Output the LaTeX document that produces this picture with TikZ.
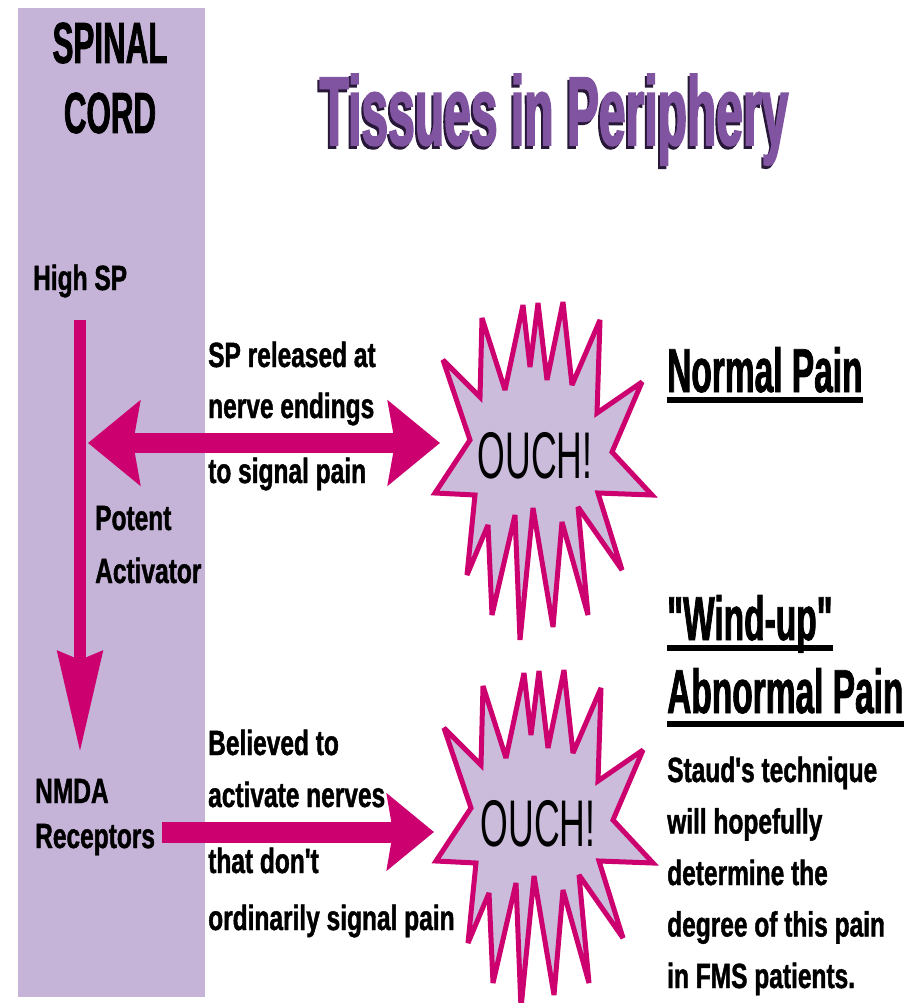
\documentclass[tikz,border=0pt]{standalone}
\usepackage{fontspec}
\setmainfont{Liberation Sans}
\newfontfamily\bodyfont[FakeStretch=0.7,BoldFeatures={FakeBold=1.2}]{Liberation Sans}
\newfontfamily\headfont[FakeStretch=0.54,BoldFeatures={FakeBold=1.2}]{Liberation Sans}
\newfontfamily\titlefont[FakeStretch=0.49,BoldFeatures={FakeBold=1.6}]{Liberation Sans}
\usetikzlibrary{arrows.meta,calc}
\definecolor{cordfill}{RGB}{197,179,216}
\definecolor{burstfill}{RGB}{203,188,220}
\definecolor{painpink}{RGB}{204,0,110}
\definecolor{titlepurple}{RGB}{128,84,160}
\definecolor{titleshadow}{RGB}{40,24,56}
\tikzset{
  body/.style={font=\bodyfont\bfseries\fontsize{35}{40}\selectfont,inner sep=0pt,anchor=base west},
  head/.style={font=\headfont\bfseries\fontsize{62}{70}\selectfont,inner sep=0pt,anchor=base west},
  cordlabel/.style={font=\headfont\bfseries\fontsize{58}{64}\selectfont,inner sep=0pt,anchor=base},
  titletext/.style={font=\titlefont\bfseries\fontsize{98}{100}\selectfont,inner sep=0pt,anchor=base},
  ouch/.style={font=\headfont\fontsize{66}{70}\selectfont,inner sep=0pt},
  underbar/.style={line width=6pt},
  fatarrow/.style={draw=painpink,line width=#1},
  pics/burst/.style={code={
    \draw[draw=painpink,fill=burstfill,line width=5pt,miter limit=3]
      (-100,-110) -- (-63,-73) -- (-61,-152) -- (-38,-80) -- (-20,-165) -- (-13,-103)
      -- (-5,-167) -- (4,-90) -- (20,-168) -- (29,-85) -- (57,-150) -- (54,-57)
      -- (99,-88) -- (69,-18) -- (109,25) -- (55,23) -- (79,100) -- (35,37)
      -- (45,145) -- (19,52) -- (10,157) -- (-10,38) -- (-23,170) -- (-28,45)
      -- (-51,145) -- (-55,55) -- (-76,105) -- (-68,25) -- (-108,23) -- (-73,-30) -- cycle;
  }}
}
\begin{document}
\begin{tikzpicture}[x=1pt,y=-1pt]
  \useasboundingbox (0,0) rectangle (916,1003);
  \fill[cordfill] (18,8) rectangle (205,997);
  \node[cordlabel] (spinal) at (110,63) {SPINAL};
  \node[cordlabel] (cord) at (110,133) {CORD};
  \node[titletext,titleshadow] at (552,148) {Tissues in Periphery};
  \node[titletext,titlepurple] (title) at (554,145) {Tissues in Periphery};

  \pic at (543,470) {burst};
  \pic at (544,838) {burst};
  \node[ouch] (ouch1) at (535,456) {OUCH!};
  \node[ouch] (ouch2) at (538,824) {OUCH!};

  \node[body] (highsp) at (33,290) {High SP};
  \node[body] (potent) at (95,530) {Potent};
  \node[body] (activator) at (95,583) {Activator};
  \node[body] (nmda) at (35,803) {NMDA};
  \node[body] (receptors) at (35,848) {Receptors};
  \node[body] (released) at (208,367) {SP released at};
  \node[body] (endings) at (208,418) {nerve endings};
  \node[body] (signal) at (208,483) {to signal pain};
  \node[body] (believed) at (208,755) {Believed to};
  \node[body] (activate) at (208,807) {activate nerves};
  \node[body] (dont) at (208,873) {that don't};
  \node[body] (ordinarily) at (208,930) {ordinarily signal pain};

  \node[head] (normal) at (667,392) {Normal Pain};
  \node[head] (windup) at (667,640) {"Wind-up"};
  \node[head] (abnormal) at (667,713) {Abnormal Pain};
  \foreach \txt [count=\i] in {Staud's technique,will hopefully,determine the,degree of this pain,in FMS patients.}
    \node[body] (staud\i) at (667,730.5+51.5*\i) {\txt};

  \draw[underbar] ($(normal.base west)+(0,8)$) -- ($(normal.base east)+(0,8)$);
  \draw[underbar] ($(windup.base west)+(0,8)$) -- ($(windup.base east)+(0,8)$);
  \draw[underbar] ($(abnormal.base west)+(0,11)$) -- ($(abnormal.base east)+(0,11)$);

  \coordinate (spstart) at (80,320);
  \coordinate (nmdatip) at (80,752);
  \coordinate (cordtip) at (88,443);
  \coordinate (burstone) at (440,443);
  \coordinate (nmdaout) at (162,832);
  \coordinate (bursttwo) at (434,832);
  \draw[fatarrow=12pt,-{Stealth[length=100pt,width=44pt,inset=8pt]}] (spstart) -- (nmdatip);
  \draw[fatarrow=20pt,{Stealth[length=52pt,width=84pt,inset=7pt]}-{Stealth[length=52pt,width=84pt,inset=7pt]}] (cordtip) -- (burstone);
  \draw[fatarrow=21pt,-{Stealth[length=47pt,width=76pt,inset=6pt]}] (nmdaout) -- (bursttwo);
\end{tikzpicture}
\end{document}
